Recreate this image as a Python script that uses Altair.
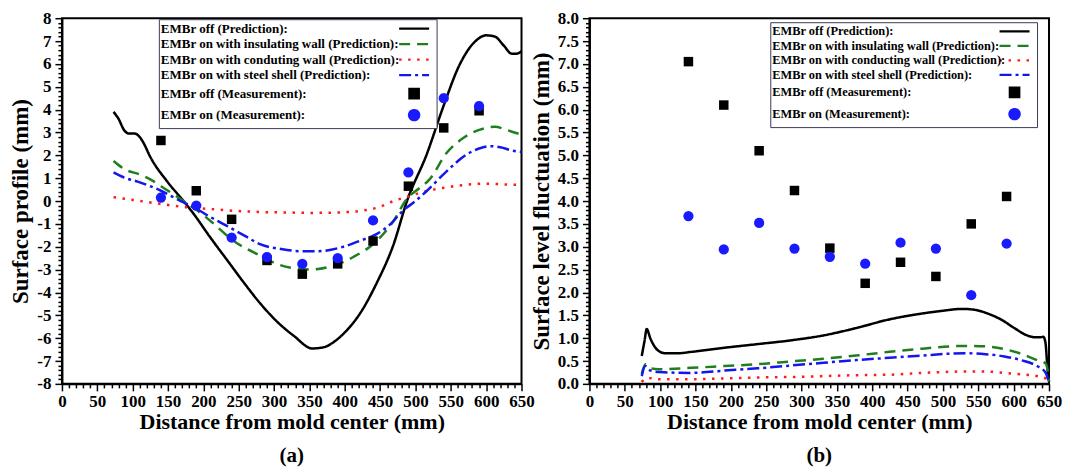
import altair as alt
import pandas as pd

# ---------------- data ----------------
X_MEAS = [140, 190, 240, 290, 340, 390, 440, 490, 540, 590]

# panel (a): surface profile
A_OFF_MEAS = [2.65, 0.45, -0.8, -2.6, -3.2, -2.75, -1.75, 0.65, 3.2, 3.95]
A_ON_MEAS = [0.15, -0.2, -1.6, -2.45, -2.75, -2.5, -0.85, 1.25, 4.5, 4.15]

A_OFF_X = [73, 80, 88, 95, 103, 110, 117, 123, 149, 172, 186, 210, 234, 258, 281, 305, 328, 354,
           370, 383, 400, 422, 445, 469, 488, 516, 539, 563, 585, 600, 612, 625, 636, 643, 650]
A_OFF_Y = [3.9, 3.6, 3.1, 2.95, 2.95, 2.8, 2.45, 2.05, 0.85, 0.0, -0.55, -1.6, -2.6, -3.6, -4.5, -5.3,
           -5.9, -6.45, -6.4, -6.2, -5.75, -4.9, -3.6, -1.9, 0.0, 2.05, 4.1, 6.0, 7.0, 7.25, 7.2,
           6.8, 6.45, 6.45, 6.55]

A_INS_X = [73, 88, 111, 125, 140, 160, 178, 195, 210, 243, 281, 304, 330, 350, 375, 412, 445, 469,
           488, 505, 520, 544, 565, 581, 600, 612, 630, 650]
A_INS_Y = [1.75, 1.4, 1.15, 0.95, 0.65, 0.25, -0.13, -0.5, -0.87, -1.75, -2.4, -2.75, -2.95, -3.0,
           -2.9, -2.45, -1.75, -0.87, 0.1, 0.55, 0.95, 2.1, 2.7, 3.0, 3.2, 3.25, 3.1, 2.9]

A_CON_X = [73, 100, 140, 175, 210, 245, 281, 320, 351, 390, 422, 450, 469, 490, 516, 540, 563, 580,
           601, 625, 650]
A_CON_Y = [0.17, 0.05, -0.13, -0.27, -0.35, -0.43, -0.48, -0.5, -0.52, -0.5, -0.43, -0.25, 0.0, 0.2,
           0.44, 0.58, 0.68, 0.74, 0.76, 0.73, 0.7]

A_STL_X = [73, 90, 107, 140, 168, 186, 210, 234, 260, 281, 310, 340, 360, 398, 425, 445, 465, 482,
           500, 516, 544, 573, 590, 605, 620, 638, 650]
A_STL_Y = [1.25, 1.0, 0.85, 0.45, 0.0, -0.26, -0.7, -1.1, -1.55, -1.9, -2.1, -2.2, -2.2, -2.0, -1.7,
           -1.45, -1.0, -0.43, 0.0, 0.44, 1.3, 2.05, 2.3, 2.4, 2.35, 2.2, 2.15]

# panel (b): surface level fluctuation
B_OFF_MEAS = [7.05, 6.1, 5.1, 4.23, 2.97, 2.2, 2.66, 2.35, 3.5, 4.1]
B_ON_MEAS = [3.67, 2.94, 3.52, 2.96, 2.78, 2.63, 3.09, 2.96, 1.94, 3.07]

B_OFF_X = [74, 78, 81, 86, 92, 98, 107, 125, 144, 191, 238, 284, 331, 377, 424, 471, 500, 527, 545,
           563, 583, 601, 619, 630, 638, 642, 645, 648, 650]
B_OFF_Y = [0.61, 0.95, 1.2, 1.0, 0.82, 0.72, 0.67, 0.67, 0.7, 0.79, 0.87, 0.95, 1.06, 1.22, 1.41,
           1.54, 1.6, 1.64, 1.62, 1.54, 1.4, 1.22, 1.06, 1.02, 1.02, 1.03, 0.9, 0.3, 0.05]

B_INS_X = [74, 79, 85, 98, 144, 191, 238, 284, 331, 377, 424, 471, 510, 531, 560, 587, 610, 633,
           645, 648, 650]
B_INS_Y = [0.22, 0.43, 0.35, 0.32, 0.35, 0.39, 0.43, 0.49, 0.55, 0.62, 0.7, 0.77, 0.82, 0.83, 0.82,
           0.76, 0.66, 0.52, 0.45, 0.3, 0.05]

B_CON_X = [74, 81, 100, 144, 191, 238, 284, 331, 377, 424, 471, 531, 560, 587, 610, 633, 645, 650]
B_CON_Y = [0.04, 0.13, 0.1, 0.1, 0.12, 0.14, 0.15, 0.17, 0.19, 0.2, 0.24, 0.27, 0.27, 0.24, 0.21,
           0.17, 0.12, 0.02]

B_STL_X = [74, 79, 85, 98, 144, 191, 238, 284, 331, 377, 424, 471, 510, 531, 560, 587, 610, 633,
           645, 650]
B_STL_Y = [0.17, 0.39, 0.3, 0.26, 0.24, 0.29, 0.34, 0.4, 0.46, 0.52, 0.57, 0.62, 0.66, 0.67, 0.65,
           0.6, 0.52, 0.39, 0.25, 0.03]

A_NAMES = ["EMBr off (Prediction):",
           "EMBr on with insulating wall (Prediction):",
           "EMBr on with conduting wall (Prediction):",
           "EMBr on with steel shell (Prediction):",
           "EMBr off (Measurement):",
           "EMBr on (Measurement):"]
B_NAMES = ["EMBr off (Prediction):",
           "EMBr on with insulating wall (Prediction):",
           "EMBr on with conducting wall (Prediction):",
           "EMBr on with steel shell (Prediction):",
           "EMBr off (Measurement):",
           "EMBr on (Measurement):"]

COLORS = ["#000000", "#1f7f1f", "#ff1a1a", "#1515ee", "#000000", "#1a1aff"]
DASHES = [[1, 0], [11, 7], [2.5, 6.5], [12, 4, 3, 4], [1, 0], [1, 0]]
LINE_GLYPH = "M-5,0L5,0"
SHAPES = [LINE_GLYPH, LINE_GLYPH, LINE_GLYPH, LINE_GLYPH, "square", "circle"]
SIZES = [36, 36, 36, 36, 90, 105]

FONT = "Liberation Serif"


def line_frame(names, curves):
    rows = []
    for name, (xs, ys) in zip(names, curves):
        for x, y in zip(xs, ys):
            rows.append({"x": x, "y": y, "series": name})
    return pd.DataFrame(rows)


def point_frame(names, meas):
    rows = []
    for name, ys in zip(names, meas):
        for x, y in zip(X_MEAS, ys):
            rows.append({"x": x, "y": y, "series": name})
    return pd.DataFrame(rows)


def panel(names, curves, meas, ydomain, yvals, ymajor_test, ylabel_expr, ytitle,
          legx, legy, symoff, legfont, width, letter):
    legend = alt.Legend(
        title=None, orient="none", legendX=legx, legendY=legy, direction="vertical",
        columns=1, labelFont=FONT, labelFontSize=legfont, labelFontWeight="bold",
        labelColor="black", labelOffset=alt.ExprRef(str(-(symoff + 14))),
        symbolOffset=symoff, rowPadding=1.5, padding=3,
        strokeColor="#3a3a5a", fillColor="white",
        symbolStrokeWidth=2.2, labelLimit=400,
    )
    xaxis = alt.Axis(
        values=list(range(0, 651, 10)),
        labelExpr="datum.value % 50 === 0 ? '' + datum.value : ''",
        tickSize={"condition": {"test": "datum.value % 50 === 0", "value": 7}, "value": 4},
        labelOverlap=False, labelFlush=False, grid=False,
        title="Distance from mold center (mm)", titleFontSize=22, titlePadding=2,
        labelPadding=3,
    )
    yaxis = alt.Axis(
        values=yvals, labelExpr=ylabel_expr,
        tickSize={"condition": {"test": ymajor_test, "value": 7}, "value": 4},
        labelOverlap=False, grid=False, title=ytitle, titleFontSize=23,
        titlePadding=4, labelPadding=4,
    )
    x = alt.X("x:Q", scale=alt.Scale(domain=[0, 650], nice=False), axis=xaxis)
    y = alt.Y("y:Q", scale=alt.Scale(domain=ydomain, nice=False), axis=yaxis)
    color = alt.Color("series:N", scale=alt.Scale(domain=names, range=COLORS), legend=legend)
    lines = alt.Chart(line_frame(names[:4], curves)).mark_line(
        strokeWidth=2.5, interpolate="monotone", strokeCap="butt"
    ).encode(
        x=x, y=y, color=color,
        strokeDash=alt.StrokeDash("series:N", scale=alt.Scale(domain=names, range=DASHES), legend=legend),
    )
    points = alt.Chart(point_frame(names[4:], meas)).mark_point(
        filled=True, opacity=1
    ).encode(
        x=x, y=y, color=color,
        shape=alt.Shape("series:N", scale=alt.Scale(domain=names, range=SHAPES), legend=legend),
        size=alt.Size("series:N", scale=alt.Scale(type="ordinal", domain=names, range=SIZES),
                      legend=legend),
    )
    return alt.layer(lines, points).properties(
        width=width, height=366,
        title=alt.TitleParams(letter, orient="bottom", anchor="middle", font=FONT,
                              fontSize=21, fontWeight="bold", color="black", offset=12),
    )


A_YVALS = [round(-8 + 0.2 * i, 1) for i in range(81)]
B_YVALS = [round(0.1 * i, 1) for i in range(81)]

left = panel(
    A_NAMES,
    [(A_OFF_X, A_OFF_Y), (A_INS_X, A_INS_Y), (A_CON_X, A_CON_Y), (A_STL_X, A_STL_Y)],
    [A_OFF_MEAS, A_ON_MEAS],
    [-8, 8], A_YVALS,
    "abs(datum.value - round(datum.value)) < 1e-6",
    "abs(datum.value - round(datum.value)) < 1e-6 ? '' + round(datum.value) : ''",
    "Surface profile (mm)", 97, 1, 246, 13, 460, "(a)",
)
right = panel(
    B_NAMES,
    [(B_OFF_X, B_OFF_Y), (B_INS_X, B_INS_Y), (B_CON_X, B_CON_Y), (B_STL_X, B_STL_Y)],
    [B_OFF_MEAS, B_ON_MEAS],
    [0, 8], B_YVALS,
    "abs(datum.value * 2 - round(datum.value * 2)) < 1e-6",
    "abs(datum.value * 2 - round(datum.value * 2)) < 1e-6 ? format(datum.value, '.1f') : ''",
    "Surface level fluctuation (mm)", 181, 4, 235, 12.4, 460, "(b)",
)

chart = alt.hconcat(left, right, spacing=68, bounds="flush").resolve_scale(
    color="independent", strokeDash="independent", shape="independent", size="independent"
).resolve_legend(
    color="independent", strokeDash="independent", shape="independent", size="independent"
).properties(
    padding={"left": 0, "top": 0, "right": 0, "bottom": 0}
).configure_view(
    stroke="black", strokeWidth=2
).configure_axis(
    labelFont=FONT, labelFontSize=17, labelFontWeight="bold", labelColor="black",
    titleFont=FONT, titleFontWeight="bold", titleColor="black",
    domainColor="black", domainWidth=2, tickColor="black", tickWidth=1.5,
)

chart.save("out.html", embed_options={"renderer": "svg", "actions": False})
